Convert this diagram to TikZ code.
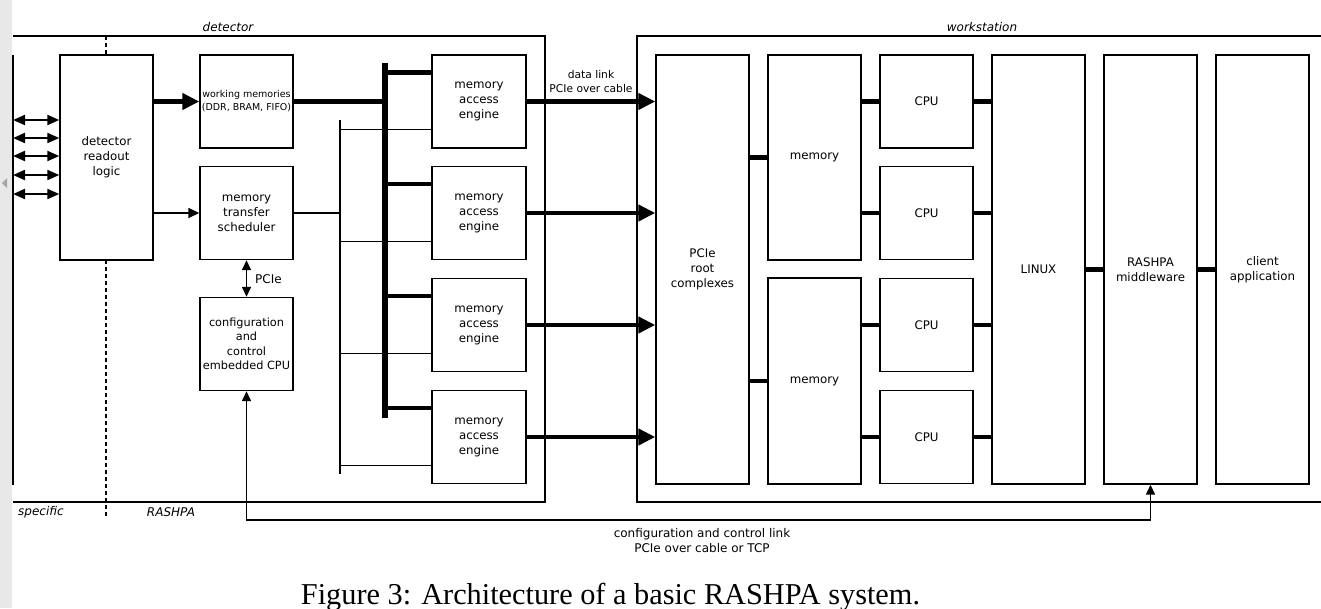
\documentclass[tikz,border=0pt]{standalone}
\usepackage{fontspec}
\setmainfont{DejaVu Sans}
\newfontfamily\capfont{Liberation Serif}
\usetikzlibrary{arrows.meta,calc}
\begin{document}
\begin{tikzpicture}[x=1pt,y=-1pt,
  box/.style={draw,line width=1.4pt,fill=white,align=center,inner sep=0pt,minimum width=93pt,font=\fontsize{11.8}{15}\selectfont},
  sbox/.style={box,minimum height=93pt},
  frame/.style={line width=1.4pt},
  thicklink/.style={line width=4.5pt},
  buslink/.style={line width=5.5pt},
  thinlink/.style={line width=1.1pt},
  bigarrow/.style={line width=4.5pt,-{Triangle[length=17pt,width=16pt]}},
  smallarrow/.style={line width=1.5pt,-{Triangle[length=11pt,width=10pt]}},
  bidir/.style={line width=2pt,{Triangle[length=12pt,width=10pt]}-{Triangle[length=12pt,width=10pt]}},
  ctrlarrow/.style={line width=1.5pt,{Triangle[length=10pt,width=9pt]}-{Triangle[length=10pt,width=9pt]}},
  lbl/.style={font=\fontsize{10.7}{14}\selectfont,align=center,inner sep=0pt},
  ilbl/.style={font=\fontsize{12}{15}\selectfont\itshape,inner sep=0pt}
]
\useasboundingbox (0,0) rectangle (1321,608);
\clip (0,0) rectangle (1321,608);

% dashed separator
\coordinate (dT) at (106,36);
\coordinate (dB) at (106,518);
\draw[line width=1.5pt,dash pattern=on 4pt off 3pt] (dT) -- (dB);

% detector frame
\draw[frame] (13,36) -- (545,36) -- (545,502) -- (13,502);
\node[ilbl] (detlbl) at (228,27) {detector};
\node[ilbl,anchor=west] (speclbl) at (18,512) {specific};
\node[ilbl] (rashlbl) at (171,512) {RASHPA};

% workstation frame
\draw[frame] (1330,36) -- (637,36) -- (637,502) -- (1330,502);
\node[ilbl] (wslbl) at (982,27) {workstation};

% detector boxes
\node[box,minimum height=205pt] (drl) at (106.5,157.5) {detector\\readout\\logic};
\node[sbox,font=\fontsize{9.5}{13}\selectfont] (wm) at (246.5,101.5) {working memories\\(DDR, BRAM, FIFO)};
\node[sbox] (mts) at (246.5,213) {memory\\transfer\\scheduler};
\node[sbox,font=\fontsize{11.3}{14.5}\selectfont] (cpu0) at (246.5,344) {configuration\\and\\control\\embedded CPU};
\foreach \i/\yy in {1/101.5,2/213,3/325,4/437}
  \node[sbox,minimum width=94pt] (mae\i) at (479,\yy) {memory\\access\\engine};

% workstation boxes
\node[box,minimum height=429pt] (pcie) at (702.5,269.5) {PCIe\\root\\complexes};
\node[box,minimum height=205pt] (mem1) at (814.5,157.5) {memory};
\node[box,minimum height=206pt] (mem2) at (814.5,381) {memory};
\foreach \i/\yy in {1/101.5,2/213,3/325,4/437}
  \node[sbox] (cpu\i) at (926.5,\yy) {CPU};
\node[box,minimum height=429pt] (linux) at (1038.5,269.5) {LINUX};
\node[box,minimum height=429pt] (rashpa) at (1150.5,269.5) {RASHPA\\middleware};
\node[box,minimum height=429pt] (client) at (1262.5,269.5) {client\\application};

% inputs to readout logic
\foreach \yy [count=\i] in {120,138,156,175,194} {
  \coordinate (in\i) at (13,\yy);
  \draw[bidir] (in\i) -- (drl.west |- in\i);
}
\draw[bigarrow] (drl.east |- wm.west) -- (wm.west);
\draw[smallarrow] (drl.east |- mts.west) -- (mts.west);

% data bus
\coordinate (busT) at (385,63);
\coordinate (busB) at (385,418);
\draw[buslink] (busT) -- (busB);
\draw[buslink] (wm.east) -- (wm.east -| busT);
\foreach \i in {1,2,3,4} {
  \coordinate (bb\i) at ($(mae\i.north west)+(0,18)$);
  \draw[thicklink] (bb\i -| busT) -- (bb\i);
}

% control bus
\coordinate (cT) at (340,120);
\coordinate (cB) at (340,474);
\draw[thinlink] (cT) -- (cB);
\draw[thinlink] (mts.east) -- (mts.east -| cT);
\foreach \i in {1,2,3,4} {
  \coordinate (cc\i) at ($(mae\i.south west)+(0,-19)$);
  \draw[thinlink] (cc\i -| cT) -- (cc\i);
}

% PCIe link scheduler - cpu
\draw[ctrlarrow] (mts.south) -- (cpu0.north);
\node[lbl,font=\fontsize{12}{15}\selectfont] (pcielbl) at (268.5,279) {PCIe};

% data links
\foreach \i in {1,2,3,4}
  \draw[bigarrow] (mae\i.east) -- (mae\i.east -| pcie.west);
\node[lbl] (dl) at (591,82) {data link\\PCIe over cable};

% workstation links
\draw[thicklink] (pcie.east |- mem1) -- (mem1.west);
\draw[thicklink] (pcie.east |- mem2) -- (mem2.west);
\foreach \i/\m in {1/mem1,2/mem1,3/mem2,4/mem2} {
  \draw[thicklink] (\m.east |- cpu\i) -- (cpu\i.west);
  \draw[thicklink] (cpu\i.east) -- (cpu\i.east -| linux.west);
}
\draw[thicklink] (linux.east) -- (rashpa.west);
\draw[thicklink] (rashpa.east) -- (client.west);

% configuration and control link
\draw[ctrlarrow] (cpu0.south) -- ++(0,129) -| (rashpa.south);
\node[lbl,font=\fontsize{12}{15.5}\selectfont] (cl) at (702,540.5) {configuration and control link\\PCIe over cable or TCP};

% caption
\node[font=\capfont\fontsize{30.3}{34}\selectfont,anchor=base,inner sep=0pt] (cap) at (610.5,604) {Figure 3: Architecture of a basic RASHPA system.};

% viewer strip at left
\fill[gray!18] (0,0) rectangle (12.3,608);
\fill[gray!70] (2,183) -- (7,178) -- (7,188) -- cycle;
\draw[frame] (13,55) -- (13,485);
\end{tikzpicture}
\end{document}
